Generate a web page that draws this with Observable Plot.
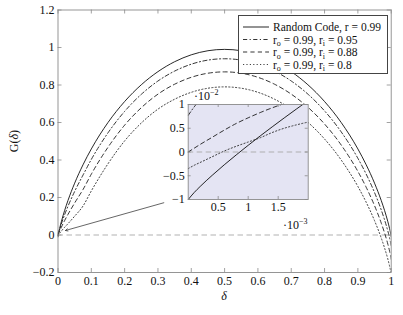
<!DOCTYPE html>
<html><head><meta charset="utf-8">
<script src="https://cdn.jsdelivr.net/npm/d3@7"></script>
<script src="https://cdn.jsdelivr.net/npm/@observablehq/plot@0.6"></script>
<style>
html,body{margin:0;padding:0;background:#fff;}
#wrap{position:relative;width:403px;height:315px;font-family:'Liberation Serif','DejaVu Serif',serif;color:#111;}
#wrap svg{position:absolute;left:0;top:0;}
#wrap svg text{font-family:'Liberation Serif','DejaVu Serif',serif;}
#legend{position:absolute;left:238px;top:15px;width:150px;height:59px;border:0.8px solid #444;background:#fff;box-sizing:border-box;}
#legend svg{position:absolute;left:0;top:0;}
</style></head>
<body><div id="wrap"></div>
<script>
// ---- data ----
const delta = [0, 0.002, 0.005, 0.01, 0.02, 0.03, 0.05, 0.075, 0.1, 0.15, 0.2, 0.25, 0.3, 0.35, 0.4, 0.45, 0.5,
  0.55, 0.6, 0.65, 0.7, 0.75, 0.8, 0.85, 0.9, 0.925, 0.95, 0.97, 0.98, 0.99, 0.995, 0.998, 1];
const gRandom = [-0.01, 0.0108, 0.0354, 0.0708, 0.1314, 0.1844, 0.2764, 0.3743, 0.459, 0.5998, 0.7119, 0.8013, 0.8713, 0.9241, 0.961, 0.9828, 0.99,
  0.9828, 0.961, 0.9241, 0.8713, 0.8013, 0.7119, 0.5998, 0.459, 0.3743, 0.2764, 0.1844, 0.1314, 0.0708, 0.0354, 0.0108, -0.01];
const gRi95 = [0.0077, 0.02, 0.0289, 0.0583, 0.1089, 0.1534, 0.2324, 0.3193, 0.403, 0.5448, 0.6594, 0.7503, 0.8213, 0.8741, 0.911, 0.9328, 0.94,
  0.9328, 0.911, 0.8741, 0.8213, 0.7513, 0.6619, 0.5498, 0.409, 0.3243, 0.2264, 0.1344, 0.0814, 0.0208, -0.0146, -0.0392, -0.06];
const gRi88 = [0, 0.0118, 0.0198, 0.0408, 0.0774, 0.11, 0.1708, 0.2423, 0.3246, 0.4678, 0.5859, 0.6789, 0.7513, 0.8041, 0.841, 0.8628, 0.87,
  0.8628, 0.841, 0.8041, 0.7513, 0.6813, 0.5919, 0.4798, 0.339, 0.2543, 0.1564, 0.0644, 0.0114, -0.0492, -0.0846, -0.1092, -0.13];
const gRi80 = [-0.0035, 0.0063, 0.0094, 0.0208, 0.0414, 0.0604, 0.1004, 0.1543, 0.235, 0.3798, 0.5019, 0.5973, 0.6713, 0.7241, 0.761, 0.7828, 0.79,
  0.7828, 0.761, 0.7241, 0.6713, 0.6013, 0.5119, 0.3998, 0.259, 0.1743, 0.0764, -0.0156, -0.0686, -0.1292, -0.1646, -0.1892, -0.21];

const insetDelta = [0, 0.0001, 0.0002, 0.0004, 0.0006, 0.0008, 0.001, 0.0012, 0.0014, 0.0016, 0.0018, 0.002];
const insetRandom = [-0.01, -0.00853, -0.00725, -0.00491, -0.00271, -0.00062, 0.00141, 0.00338, 0.00529, 0.00717, 0.00901, 0.01082];
const insetRi95 = [0.0077, 0.0095, 0.011, 0.0132, 0.0148, 0.016, 0.017, 0.0178, 0.0185, 0.0191, 0.0196, 0.02];
const insetRi88 = [0, 0.0008, 0.0016, 0.0031, 0.0046, 0.006, 0.0072, 0.0083, 0.0093, 0.0102, 0.011, 0.0118];
const insetRi80 = [-0.0035, -0.0028, -0.0022, -0.001, 0.0002, 0.0012, 0.0021, 0.003, 0.0041, 0.005, 0.0057, 0.0063];

const xTicks = [0, 0.1, 0.2, 0.3, 0.4, 0.5, 0.6, 0.7, 0.8, 0.9, 1];
const yTicks = [-0.2, 0, 0.2, 0.4, 0.6, 0.8, 1, 1.2];
const insetXTicks = [0.0005, 0.001, 0.0015];
const insetYTicks = [-0.01, -0.005, 0, 0.005, 0.01];
const arrowFrom = [0.3175, 0.172];
const arrowTo = [0.0225, 0.024];

// legend labels: [main, sub1, mid, sub2, tail]
const legendParts = [
  ["Random Code, r = 0.99"],
  ["r", "o", " = 0.99, r", "i", " = 0.95"],
  ["r", "o", " = 0.99, r", "i", " = 0.88"],
  ["r", "o", " = 0.99, r", "i", " = 0.8"]
];

// ---- build ----
const W = 403, H = 315;
const FONT = "'Liberation Serif', 'DejaVu Serif', serif";
const fmt = d => { const v = +(+d).toFixed(4); return v < 0 ? "\u2212" + (-v) : String(v); };
const table = (xs, ys) => xs.map((x, i) => ({x, y: ys[i]}));
const styles = [
  {stroke: "#000"},
  {stroke: "#111", strokeDasharray: "4.2,2.4,1.2,2.4"},
  {stroke: "#111", strokeDasharray: "4.2,3.2"},
  {stroke: "#222", strokeDasharray: "1.2,2.2"}
];
const mainSeries = [gRandom, gRi95, gRi88, gRi80];
const insetSeries = [insetRandom, insetRi95, insetRi88, insetRi80];
const gray = "#8a8a8a";
const baseStyle = {fontFamily: FONT, fontSize: "12px", background: "transparent", overflow: "visible", color: "#111"};

function frameTicks(xt, yt, pw, ph, len) {
  return [
    Plot.tickX(xt, {x: d => d, insetTop: ph - len, stroke: gray, strokeWidth: 0.8}),
    Plot.tickX(xt, {x: d => d, insetBottom: ph - len, stroke: gray, strokeWidth: 0.8}),
    Plot.tickY(yt, {y: d => d, insetRight: pw - len, stroke: gray, strokeWidth: 0.8}),
    Plot.tickY(yt, {y: d => d, insetLeft: pw - len, stroke: gray, strokeWidth: 0.8})
  ];
}

const mL = 57.5, mR = 12.3, mT = 9.5, mB = 43;
const main = Plot.plot({
  width: W, height: H, marginLeft: mL, marginRight: mR, marginTop: mT, marginBottom: mB,
  style: baseStyle,
  x: {domain: [0, 1]}, y: {domain: [-0.2, 1.2]},
  marks: [
    Plot.ruleY([0], {stroke: "#a8a8a8", strokeWidth: 0.9, strokeDasharray: "5.5,3.5"}),
    ...mainSeries.map((s, i) => Plot.line(table(delta, s), {x: "x", y: "y", curve: "monotone-x", strokeWidth: 0.85, clip: true, ...styles[i]})),
    Plot.arrow([{x1: arrowFrom[0], y1: arrowFrom[1], x2: arrowTo[0], y2: arrowTo[1]}],
      {x1: "x1", y1: "y1", x2: "x2", y2: "y2", stroke: "#333", strokeWidth: 0.75, headLength: 5, headAngle: 55}),
    ...frameTicks(xTicks, yTicks, W - mL - mR, H - mT - mB, 4),
    Plot.frame({stroke: gray, strokeWidth: 0.9}),
    Plot.axisX(xTicks, {tickSize: 0, tickPadding: 4, tickFormat: fmt, label: null, fill: "#111"}),
    Plot.axisY(yTicks, {tickSize: 0, tickPadding: 3.5, tickFormat: fmt, label: null, fill: "#111"})
  ]
});

const iL = 187.7, iR = 307.7, iT = 104, iB = 199;
const inset = Plot.plot({
  width: W, height: H, marginLeft: iL, marginRight: W - iR, marginTop: iT, marginBottom: H - iB,
  style: baseStyle,
  x: {domain: [0, 0.002]}, y: {domain: [-0.01, 0.01]},
  marks: [
    Plot.frame({fill: "#e4e4f3", stroke: "none"}),
    Plot.ruleY([0], {stroke: "#a8a8a8", strokeWidth: 0.9, strokeDasharray: "5.5,3.5"}),
    ...insetSeries.map((s, i) => Plot.line(table(insetDelta, s), {x: "x", y: "y", curve: "monotone-x", strokeWidth: 0.85, clip: true, ...styles[i]})),
    ...frameTicks(insetXTicks, insetYTicks, iR - iL, iB - iT, 3),
    Plot.frame({stroke: gray, strokeWidth: 0.9}),
    Plot.axisX(insetXTicks, {tickSize: 0, tickPadding: 3, tickFormat: d => fmt(d * 1000), label: null, fill: "#111"}),
    Plot.axisY(insetYTicks, {tickSize: 0, tickPadding: 3.5, tickFormat: d => fmt(d * 100), label: null, fill: "#111"})
  ]
});

const wrap = document.getElementById("wrap");
wrap.appendChild(main);
wrap.appendChild(inset);

// annotation texts as svg
const ann = d3.create("svg").attr("width", W).attr("height", H)
  .style("font-family", FONT).style("font-size", "12px").attr("fill", "#111");
ann.append("text").attr("x", 224).attr("y", 300).attr("text-anchor", "middle").attr("font-style", "italic").text("δ");
const gl = ann.append("text").attr("transform", "translate(18,141) rotate(-90)").attr("text-anchor", "middle");
gl.append("tspan").text("G(");
gl.append("tspan").attr("font-style", "italic").text("δ");
gl.append("tspan").text(")");
function sciLabel(x, y, exp) {
  const t = ann.append("text").attr("x", x).attr("y", y).attr("fill", "#111");
  t.append("tspan").text("·10");
  t.append("tspan").attr("font-size", "8px").attr("dy", -4.5).text(exp);
}
sciLabel(194, 99.5, "\u22122");
sciLabel(283, 228.5, "\u22123");
wrap.appendChild(ann.node());

// legend
const legend = document.createElement("div");
legend.id = "legend";
const lg = d3.create("svg").attr("width", 150).attr("height", 59)
  .style("font-family", FONT).style("font-size", "11.5px").attr("fill", "#111");
legendParts.forEach((parts, i) => {
  const cy = 11 + i * 12.5;
  const st = styles[i];
  lg.append("line").attr("x1", 4).attr("x2", 30).attr("y1", cy).attr("y2", cy)
    .attr("stroke", st.stroke).attr("stroke-width", 0.85).attr("stroke-dasharray", st.strokeDasharray || null);
  const t = lg.append("text").attr("x", 34).attr("y", cy + 4);
  if (parts.length === 1) { t.text(parts[0]); return; }
  t.append("tspan").text(parts[0]);
  t.append("tspan").attr("font-size", "8px").attr("dy", 2.5).text(parts[1]);
  t.append("tspan").attr("dy", -2.5).text(parts[2]);
  t.append("tspan").attr("font-size", "8px").attr("dy", 2.5).text(parts[3]);
  t.append("tspan").attr("dy", -2.5).text(parts[4]);
});
legend.appendChild(lg.node());
wrap.appendChild(legend);
</script>
</body></html>
